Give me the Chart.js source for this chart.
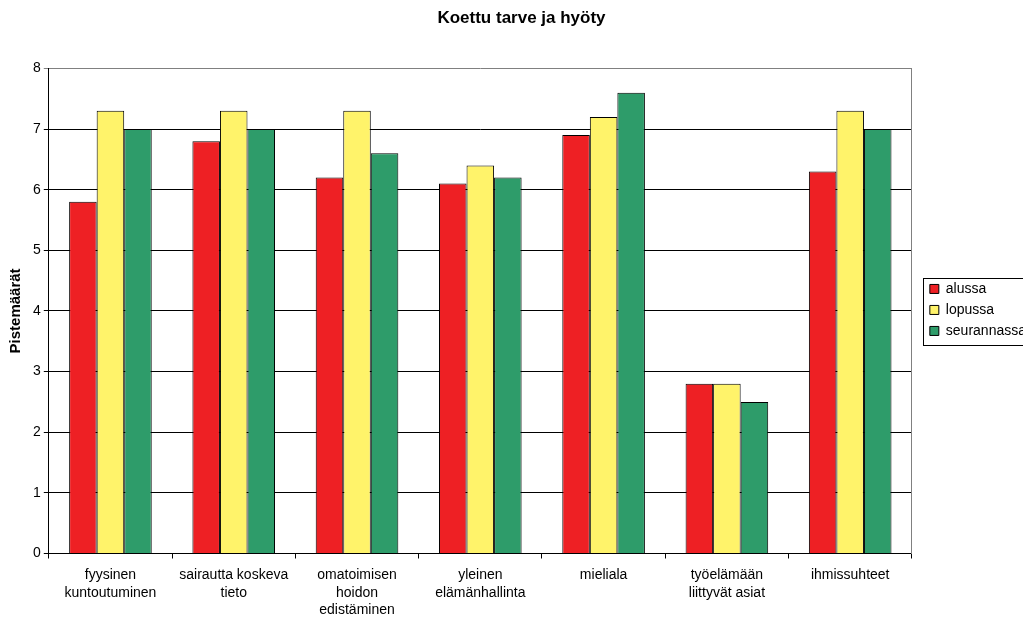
<!DOCTYPE html>
<html>
<head>
<meta charset="utf-8">
<script src="https://cdn.jsdelivr.net/npm/chart.js@4/dist/chart.umd.min.js"></script>
<style>
  html, body { margin: 0; padding: 0; background: #fff; }
  #wrap { width: 1023px; height: 617px; }
</style>
</head>
<body>
<div id="wrap"><canvas id="chart" width="1023" height="617"></canvas></div>
<script>
const categories = [
  ["fyysinen", "kuntoutuminen"],
  ["sairautta koskeva", "tieto"],
  ["omatoimisen", "hoidon", "edistäminen"],
  ["yleinen", "elämänhallinta"],
  ["mieliala"],
  ["työelämään", "liittyvät asiat"],
  ["ihmissuhteet"]
];
const alussa = [5.8, 6.8, 6.2, 6.1, 6.9, 2.8, 6.3];
const lopussa = [7.3, 7.3, 7.3, 6.4, 7.2, 2.8, 7.3];
const seurannassa = [7.0, 7.0, 6.6, 6.2, 7.6, 2.5, 7.0];

const FONT = "'Liberation Sans', Arial, sans-serif";
Chart.defaults.font.family = FONT;
Chart.defaults.color = "#000";

// legenda keskelle kuva-alaa + kehys
const legendFrame = {
  id: "legendFrame",
  afterLayout(chart) {
    const l = chart.legend, a = chart.chartArea;
    if (!l) return;
    const h = l.bottom - l.top;
    const c = (a.top + a.bottom) / 2 - 1;
    l.top = c - h / 2;
    l.bottom = c + h / 2;
  },
  afterDraw(chart) {
    const { ctx, legend } = chart;
    if (!legend || !legend.legendHitBoxes.length) return;
    const boxes = legend.legendHitBoxes;
    const top = boxes[0].top - 4;
    const last = boxes[boxes.length - 1];
    const bottom = last.top + 21;
    ctx.save();
    ctx.strokeStyle = "#000";
    ctx.lineWidth = 1;
    ctx.strokeRect(Math.round(legend.left) + 0.5, Math.round(top) + 0.5, 120, Math.round(bottom - top));
    ctx.restore();
  }
};

const ds = (label, data, color) => ({
  label, data,
  backgroundColor: color,
  borderColor: "#000",
  borderWidth: 1,
  borderSkipped: "bottom",
  categoryPercentage: 0.67,
  barPercentage: 1.0,
  yAxisID: "y"
});

new Chart(document.getElementById("chart"), {
  type: "bar",
  data: {
    labels: categories,
    datasets: [
      ds("alussa", alussa, "#EE2024"),
      ds("lopussa", lopussa, "#FFF36A"),
      ds("seurannassa", seurannassa, "#2E9C6A")
    ]
  },
  options: {
    responsive: false,
    animation: false,
    layout: { padding: { top: 8, left: 7, right: -13, bottom: -10 } },
    plugins: {
      title: {
        display: true,
        text: "Koettu tarve ja hyöty",
        font: { size: 17, weight: "bold" },
        color: "#000",
        padding: { top: 0, bottom: 40 }
      },
      legend: {
        position: "right",
        align: "center",
        labels: {
          boxWidth: 9,
          boxHeight: 9,
          padding: 7,
          font: { size: 14 },
          color: "#000",
          generateLabels(chart) {
            return chart.data.datasets.map((d, i) => ({
              text: d.label,
              fillStyle: d.backgroundColor,
              strokeStyle: "#000",
              lineWidth: 1,
              datasetIndex: i
            }));
          }
        }
      },
      tooltip: { enabled: false }
    },
    scales: {
      x: {
        grid: {
          offset: true,
          drawOnChartArea: false,
          drawTicks: true,
          tickLength: 5,
          color: "#000"
        },
        border: { color: "#000", width: 1 },
        ticks: {
          font: { size: 14, lineHeight: 1.25 },
          color: "#000",
          maxRotation: 0,
          autoSkip: false,
          padding: 8
        }
      },
      y: {
        min: 0,
        max: 8,
        ticks: { stepSize: 1, font: { size: 14 }, color: "#000", padding: 3 },
        grid: {
          color: (c) => (c.tick && c.tick.value === 8 ? "#808080" : "#000"),
          tickLength: 5,
          lineWidth: 1
        },
        border: { color: "#000", width: 1 },
        title: {
          display: true,
          text: "Pistemäärät",
          font: { size: 15, weight: "bold" },
          color: "#000",
          padding: { top: 0, bottom: 5 }
        }
      },
      // oikea reuna (harmaa) ja väli legendaan
      yRight: {
        position: "right",
        min: 0,
        max: 8,
        grid: { drawOnChartArea: false, drawTicks: false },
        ticks: { display: false },
        border: { color: "#808080", width: 1 },
        afterFit(scale) { scale.width = 11; }
      }
    }
  },
  plugins: [legendFrame]
});
</script>
</body>
</html>
